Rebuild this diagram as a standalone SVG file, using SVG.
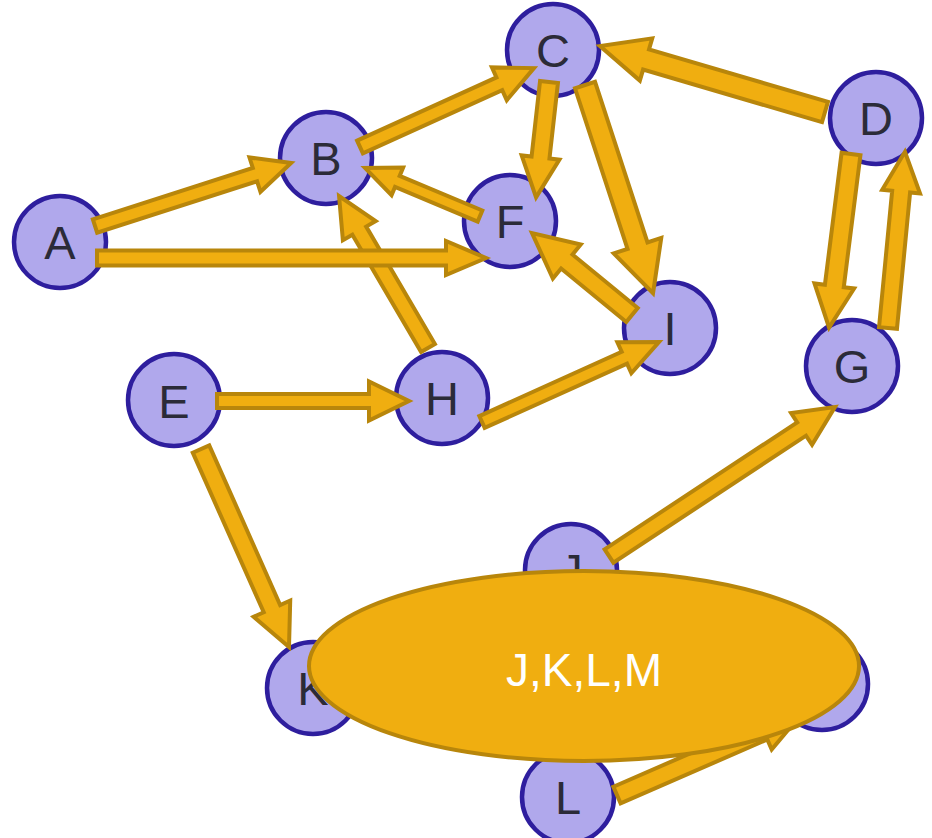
<svg xmlns="http://www.w3.org/2000/svg" width="932" height="838" viewBox="0 0 932 838">
<style>
.n circle{fill:#b0a8ec;stroke:#2e1e9e;stroke-width:4.5}
.n text{font-family:"Liberation Sans",Arial,sans-serif;font-size:47px;fill:#2b2b38;text-anchor:middle}
.e polygon{fill:#f0ae10;stroke:#b8860b;stroke-width:4;stroke-linejoin:miter}
.g ellipse{fill:#f0ae10;stroke:#b8860b;stroke-width:4}
.g text{font-family:"Liberation Sans",Arial,sans-serif;font-size:46px;fill:#ffffff;text-anchor:middle}
</style>
<rect width="932" height="838" fill="#ffffff"/>
<g id="nodes">
<g id="A" class="n"><circle cx="60" cy="242" r="46"/><text x="60" y="259">A</text></g>
<g id="B" class="n"><circle cx="326" cy="158" r="46"/><text x="326" y="175">B</text></g>
<g id="C" class="n"><circle cx="553" cy="50" r="46"/><text x="553" y="67">C</text></g>
<g id="D" class="n"><circle cx="876" cy="118" r="46"/><text x="876" y="135">D</text></g>
<g id="F" class="n"><circle cx="510" cy="221" r="46"/><text x="510" y="238">F</text></g>
<g id="I" class="n"><circle cx="670" cy="328" r="46"/><text x="670" y="345">I</text></g>
<g id="G" class="n"><circle cx="852" cy="366" r="46"/><text x="852" y="383">G</text></g>
<g id="E" class="n"><circle cx="174" cy="400" r="46"/><text x="174" y="418">E</text></g>
<g id="H" class="n"><circle cx="442" cy="398" r="46"/><text x="442" y="415">H</text></g>
<g id="J" class="n"><circle cx="571" cy="570" r="46"/><text x="571" y="587">J</text></g>
<g id="K" class="n"><circle cx="313" cy="688" r="46"/><text x="313" y="705">K</text></g>
<g id="M" class="n"><circle cx="822" cy="684" r="46"/><text x="822" y="701">M</text></g>
<g id="L" class="n"><circle cx="568" cy="797" r="46"/><text x="568" y="814">L</text></g>
</g>
<g id="edges" class="e">
<polygon transform="translate(95 226) rotate(-17.8)" points="0,-7 168,-7 168,-18 206,0 168,18 168,7 0,7"/>
<polygon transform="translate(360 147) rotate(-24.4)" points="0,-7 153,-7 153,-18 191,0 153,18 153,7 0,7"/>
<polygon transform="translate(549 82) rotate(96.4)" points="0,-9 76,-9 76,-19 116,0 76,19 76,9 0,9"/>
<polygon transform="translate(585 85) rotate(71.9)" points="0,-10.5 169,-10.5 169,-25 219,0 169,25 169,10.5 0,10.5"/>
<polygon transform="translate(825 112) rotate(-163.65)" points="0,-10.5 186.5,-10.5 186.5,-22 234.5,0 186.5,22 186.5,10.5 0,10.5"/>
<polygon transform="translate(851 154) rotate(97.2)" points="0,-9.5 133,-9.5 133,-20 175,0 133,20 133,9.5 0,9.5"/>
<polygon transform="translate(888 328) rotate(-84.5)" points="0,-9 137,-9 137,-19 177,0 137,19 137,9 0,9"/>
<polygon transform="translate(480 216) rotate(-157.3)" points="0,-6 89.6,-6 89.6,-15 124.6,0 89.6,15 89.6,6 0,6"/>
<polygon transform="translate(428 348) rotate(-120.35)" points="0,-8 136,-8 136,-19 176,0 136,19 136,8 0,8"/>
<polygon transform="translate(97 258)" points="0,-7.5 349,-7.5 349,-17 389,0 349,17 349,7.5 0,7.5"/>
<polygon transform="translate(632 315) rotate(-140.65)" points="0,-9 84.3,-9 84.3,-22 129.3,0 84.3,22 84.3,9 0,9"/>
<polygon transform="translate(482 422) rotate(-24.3)" points="0,-6.5 156.2,-6.5 156.2,-17 194.2,0 156.2,17 156.2,6.5 0,6.5"/>
<polygon transform="translate(217 401)" points="0,-7 152,-7 152,-19.5 192,0 152,19.5 152,7 0,7"/>
<polygon transform="translate(201 449) rotate(66.04)" points="0,-9 174.7,-9 174.7,-20 216.7,0 174.7,20 174.7,9 0,9"/>
<polygon transform="translate(609 556) rotate(-33.4)" points="0,-8 230.7,-8 230.7,-19 270.7,0 230.7,19 230.7,8 0,8"/>
<polygon transform="translate(617 795) rotate(-23.5)" points="0,-9 160,-9 160,-20 200,0 160,20 160,9 0,9"/>
</g>
<g id="group-JKLM" class="g">
<ellipse cx="584" cy="666" rx="275" ry="95"/>
<text x="584" y="686">J,K,L,M</text>
</g>
</svg>
